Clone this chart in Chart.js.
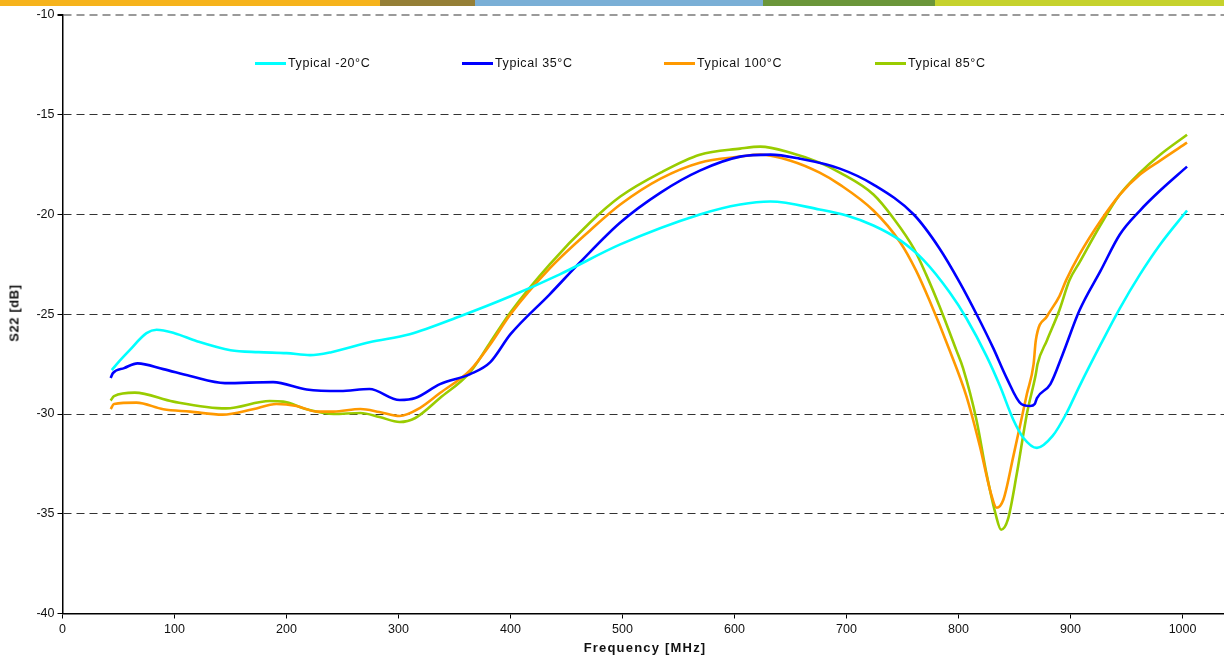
<!DOCTYPE html>
<html>
<head>
<meta charset="utf-8">
<script src="https://cdn.jsdelivr.net/npm/chart.js@4/dist/chart.umd.min.js"></script>
<style>
  html, body { margin: 0; padding: 0; background: #fff; }
  #wrap { position: relative; width: 1224px; height: 661px; overflow: hidden; font-family: "Liberation Sans", Arial, sans-serif; }
  #c { position: absolute; left: 0; top: 0; }
  .bar { position: absolute; top: 0; height: 6px; }
  .leg { position: absolute; top: 55px; height: 16px; display: flex; align-items: center; font-size: 12.5px; letter-spacing: 0.6px; color: #111; white-space: nowrap; }
  .leg i { display: inline-block; width: 31px; height: 3px; margin-right: 2px; }
  #xt { position: absolute; left: 0; width: 1290px; top: 640px; text-align: center; font-weight: bold; font-size: 13px; letter-spacing: 1.2px; color: #111; }
  #yt { position: absolute; left: 14px; top: 313px; transform: translate(-50%, -50%) rotate(-90deg); font-weight: bold; font-size: 13px; letter-spacing: 0.6px; color: #111; white-space: nowrap; }
</style>
</head>
<body>
<div id="wrap">
  <div class="bar" style="left:0;width:380px;background:#F6B31C"></div>
  <div class="bar" style="left:380px;width:95px;background:#957F37"></div>
  <div class="bar" style="left:475px;width:288px;background:#7AAFD6"></div>
  <div class="bar" style="left:763px;width:172px;background:#6B963A"></div>
  <div class="bar" style="left:935px;width:289px;background:#C6D22D"></div>
  <canvas id="c" width="1224" height="661"></canvas>
  <div id="legend"></div>
  <div id="xt">Frequency [MHz]</div>
  <div id="yt">S22 [dB]</div>
</div>
<script>
// ---- data ----
const seriesLabels = ["Typical -20°C", "Typical 35°C", "Typical 100°C", "Typical 85°C"];
const seriesColors = ["#00FFFF", "#0000FF", "#FF9900", "#99CC00"];
const legendX = [255, 462, 664, 875];

const freqM20 = [44, 50, 60, 75, 84, 100, 120, 150, 175, 200, 221, 240, 274, 310, 355, 400, 444, 498, 569, 605, 632, 676, 700, 724, 748, 769, 792, 807, 825, 837, 849, 858, 870, 884, 896, 908, 927, 944, 962, 980, 1004];
const s22M20  = [-27.8, -27.4, -26.8, -25.95, -25.78, -25.95, -26.35, -26.8, -26.9, -26.95, -27.05, -26.9, -26.4, -26.0, -25.1, -24.1, -23.0, -21.5, -20.0, -19.5, -19.35, -19.75, -20.05, -20.55, -21.3, -22.3, -23.9, -25.2, -27.1, -28.6, -30.3, -31.2, -31.7, -31.1, -30.0, -28.6, -26.5, -24.7, -23.0, -21.5, -19.8];

const freq35 = [43, 45, 55, 67, 90, 114, 145, 188, 218, 248, 274, 301, 315, 337, 364, 382, 400, 435, 462, 498, 534, 569, 605, 632, 658, 694, 724, 760, 783, 801, 817, 831, 843, 856, 864, 868, 870, 882, 893, 908, 927, 944, 962, 980, 1004];
const s2235  = [-28.2, -27.95, -27.7, -27.46, -27.75, -28.1, -28.45, -28.4, -28.77, -28.85, -28.75, -29.3, -29.2, -28.5, -28.0, -27.4, -26.0, -24.0, -22.4, -20.4, -18.9, -17.8, -17.1, -17.0, -17.2, -17.7, -18.5, -20.0, -21.7, -23.4, -25.1, -26.7, -28.2, -29.5, -29.6, -29.5, -29.2, -28.5, -27.0, -24.8, -22.8, -21.0, -19.8, -18.8, -17.6];

const freq100 = [43, 46, 66, 90, 114, 143, 170, 191, 209, 227, 242, 266, 283, 301, 319, 337, 364, 382, 400, 435, 471, 498, 534, 569, 605, 623, 650, 676, 694, 724, 748, 762, 774, 792, 807, 819, 829, 834, 840, 849, 861, 867, 869, 879, 890, 896, 908, 927, 944, 962, 980, 1004];
const s22100  = [-29.75, -29.5, -29.43, -29.76, -29.88, -30.03, -29.76, -29.5, -29.6, -29.88, -29.88, -29.75, -29.9, -30.1, -29.7, -28.95, -27.8, -26.5, -25.0, -22.7, -20.8, -19.5, -18.2, -17.4, -17.1, -17.0, -17.3, -17.9, -18.5, -19.8, -21.4, -22.8, -24.3, -26.8, -29.1, -31.6, -34.0, -34.7, -34.3, -32.1, -29.0, -27.5, -26.3, -25.1, -24.1, -23.3, -22.0, -20.3, -19.0, -18.0, -17.3, -16.4];

const freq85 = [43, 46, 64.5, 99, 146, 185, 197, 218, 242, 266, 283, 301, 315, 337, 364, 382, 400, 435, 471, 498, 534, 569, 605, 623, 650, 676, 694, 724, 742, 760, 771, 783, 798, 804, 816, 825, 833, 838, 844, 852, 861, 869, 870.5, 879, 890, 899, 908, 927, 944, 962, 980, 1004];
const s2285  = [-29.33, -29.1, -28.93, -29.38, -29.72, -29.35, -29.38, -29.76, -30.0, -29.95, -30.15, -30.4, -30.2, -29.2, -27.9, -26.4, -24.9, -22.5, -20.4, -19.1, -17.9, -17.0, -16.7, -16.6, -16.9, -17.4, -17.9, -19.0, -20.2, -21.7, -23.0, -24.6, -26.8, -27.7, -30.3, -33.0, -35.0, -35.8, -35.3, -33.0, -30.0, -28.0, -27.5, -26.3, -24.8, -23.3, -22.4, -20.5, -19.0, -17.9, -17.0, -16.0];

const yTicks = [-40, -35, -30, -25, -20, -15, -10];
const xTicks = [0, 100, 200, 300, 400, 500, 600, 700, 800, 900, 1000];

// ---- build ----
const pairs = (xs, ys) => xs.map((x, i) => ({ x: x, y: ys[i] }));
const allData = [pairs(freqM20, s22M20), pairs(freq35, s2235), pairs(freq100, s22100), pairs(freq85, s2285)];

const legend = document.getElementById('legend');
seriesLabels.forEach((lab, i) => {
  const d = document.createElement('div');
  d.className = 'leg';
  d.style.left = legendX[i] + 'px';
  d.innerHTML = '<i style="background:' + seriesColors[i] + '"></i>' + lab;
  legend.appendChild(d);
});

Chart.defaults.font.family = '"Liberation Sans", Arial, sans-serif';
Chart.defaults.font.size = 12;
Chart.defaults.color = '#111';

new Chart(document.getElementById('c'), {
  type: 'line',
  data: {
    datasets: allData.map((d, i) => ({
      label: seriesLabels[i],
      data: d,
      borderColor: seriesColors[i],
      backgroundColor: seriesColors[i],
      borderWidth: 2.6,
      pointRadius: 0,
      cubicInterpolationMode: 'monotone',
      fill: false
    }))
  },
  options: {
    responsive: false,
    animation: false,
    devicePixelRatio: 1,
    layout: { padding: { top: 15, left: 0, right: 0, bottom: 0 } },
    plugins: { legend: { display: false }, tooltip: { enabled: false } },
    scales: {
      x: {
        type: 'linear',
        min: 0,
        max: 1037,
        afterBuildTicks: s => { s.ticks = xTicks.map(v => ({ value: v })); },
        afterFit: s => { s.height = 47.5; },
        ticks: { padding: 4, maxRotation: 0, font: { size: 12.5 }, callback: v => String(v) },
        grid: { drawOnChartArea: false, drawTicks: true, tickLength: 5, tickColor: '#000', tickWidth: 1 },
        border: { display: true, color: '#000', width: 1.5 }
      },
      y: {
        type: 'linear',
        min: -40,
        max: -10,
        afterBuildTicks: s => { s.ticks = yTicks.map(v => ({ value: v })); },
        afterFit: s => { s.width = 62.5; },
        ticks: { padding: 3, font: { size: 12.5 }, callback: v => String(v) },
        grid: {
          drawOnChartArea: true,
          drawTicks: true,
          tickLength: 5,
          tickColor: '#000',
          tickBorderDash: [0, 0],
          color: c => (c.tick && c.tick.value === -10) ? '#9a9a9a' : (c.tick && c.tick.value === -40 ? 'rgba(0,0,0,0)' : '#333'),
          lineWidth: c => (c.tick && c.tick.value === -10) ? 2 : 1
        },
        border: { display: true, color: '#000', width: 1.5, dash: [8, 5] }
      }
    }
  }
});
</script>
</body>
</html>
